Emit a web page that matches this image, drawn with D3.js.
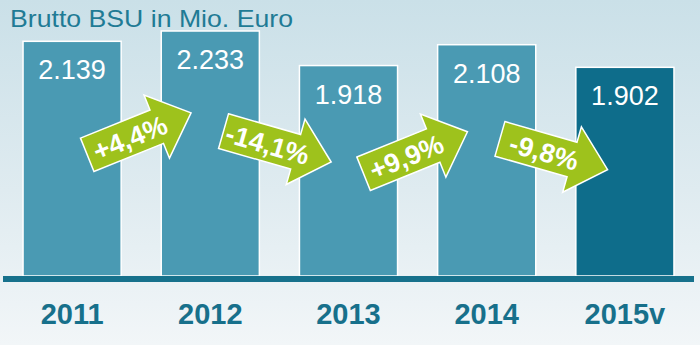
<!DOCTYPE html>
<html>
<head>
<meta charset="utf-8">
<script src="https://cdn.jsdelivr.net/npm/d3@7"></script>
<style>
  body { margin: 0; }
  svg { display: block; font-family: "Liberation Sans", Arial, sans-serif; }
</style>
</head>
<body>
<div id="viz"></div>
<script>
var years = ['2011', '2012', '2013', '2014', '2015v'];
var values = [2139, 2233, 1918, 2108, 1902];
var valueLabels = ['2.139', '2.233', '1.918', '2.108', '1.902'];
var changeLabels = ['+4,4%', '-14,1%', '+9,9%', '-9,8%'];

var width = 700,
    height = 345,
    baseY = 276;

var svg = d3.select('#viz').append('svg')
    .attr('width', width)
    .attr('height', height);

var defs = svg.append('defs');
var grad = defs.append('linearGradient')
    .attr('id', 'bg')
    .attr('x1', 0).attr('y1', 0).attr('x2', 0).attr('y2', 1);
grad.append('stop').attr('offset', '0%').attr('stop-color', '#cae0e8');
grad.append('stop').attr('offset', '55%').attr('stop-color', '#dfebf0');
grad.append('stop').attr('offset', '100%').attr('stop-color', '#f2f6f8');

svg.append('rect')
    .attr('width', width)
    .attr('height', height)
    .style('fill', 'url(#bg)');

var xScale = d3.scaleBand()
    .domain(years)
    .range([3, 694])
    .paddingInner(0.29)
    .paddingOuter(0.145);

var yScale = d3.scaleLinear()
    .domain([0, 2233])
    .range([baseY, 31]);

// title
svg.append('text')
    .attr('x', 10)
    .attr('y', 27)
    .attr('textLength', 283)
    .attr('lengthAdjust', 'spacingAndGlyphs')
    .style('font-size', '24px')
    .style('fill', '#1f7b95')
    .text('Brutto BSU in Mio. Euro');

// bars
svg.selectAll('rect.bar').data(values)
    .enter().append('rect')
    .attr('class', 'bar')
    .attr('x', function(d, i) { return xScale(years[i]); })
    .attr('y', function(d) { return yScale(d); })
    .attr('width', xScale.bandwidth())
    .attr('height', function(d) { return baseY - yScale(d); })
    .style('fill', function(d, i) { return i === values.length - 1 ? '#0e6d8b' : '#4a9ab3'; })
    .style('stroke', '#ffffff')
    .style('stroke-width', 1.5);

// value labels
svg.selectAll('text.val').data(values)
    .enter().append('text')
    .attr('class', 'val')
    .attr('x', function(d, i) { return xScale(years[i]) + xScale.bandwidth() / 2; })
    .attr('y', function(d) { return yScale(d) + 38; })
    .attr('text-anchor', 'middle')
    .style('font-size', '27px')
    .style('fill', '#ffffff')
    .text(function(d, i) { return valueLabels[i]; });

// baseline
svg.append('rect')
    .attr('x', 3)
    .attr('y', baseY)
    .attr('width', 691)
    .attr('height', 6)
    .style('fill', '#16718c');

// year labels
svg.selectAll('text.year').data(years)
    .enter().append('text')
    .attr('class', 'year')
    .attr('x', function(d) { return xScale(d) + xScale.bandwidth() / 2; })
    .attr('y', 324)
    .attr('text-anchor', 'middle')
    .style('font-size', '29px')
    .style('font-weight', 'bold')
    .style('fill', '#17708b')
    .text(function(d) { return d; });

// change arrows between bars
var arrowPath = 'M-55,-18 L20,-18 L20,-34 L57,0 L20,34 L20,18 L-55,18 Z';

var arrows = svg.selectAll('g.arrow').data(changeLabels)
    .enter().append('g')
    .attr('class', 'arrow')
    .attr('transform', function(d, i) {
        var gx = (xScale(years[i]) + xScale.bandwidth() + xScale(years[i + 1])) / 2 - 3;
        var gy = (yScale(values[i]) + yScale(values[i + 1])) / 2 + 98;
        var angle = values[i + 1] > values[i] ? -22 : 16;
        return 'translate(' + gx + ',' + gy + ') rotate(' + angle + ')';
    });

arrows.append('path')
    .attr('d', arrowPath)
    .style('fill', '#9ec21c')
    .style('stroke', '#ffffff')
    .style('stroke-width', 1.5)
    .style('stroke-linejoin', 'miter');

arrows.append('text')
    .attr('x', -9)
    .attr('y', 10)
    .attr('text-anchor', 'middle')
    .style('font-size', '27px')
    .style('font-weight', 'bold')
    .style('fill', '#ffffff')
    .text(function(d) { return d; });
</script>
</body>
</html>
